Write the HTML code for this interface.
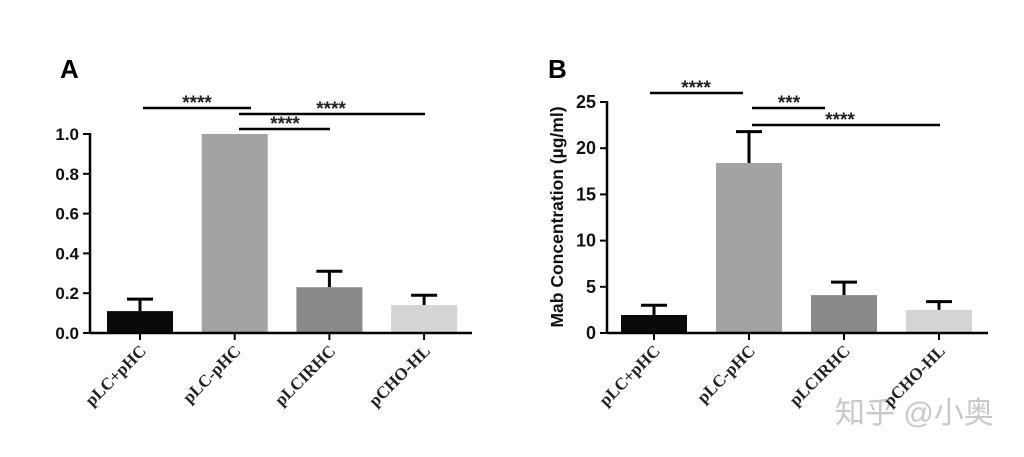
<!DOCTYPE html>
<html><head><meta charset="utf-8"><style>
html,body{margin:0;padding:0;background:#fff;}
svg{display:block;}
</style></head><body>
<svg id="s" width="1024" height="457" xmlns="http://www.w3.org/2000/svg">
<text x="60" y="78" font-family="Liberation Sans, sans-serif" font-weight="bold" font-size="26">A</text>
<text x="548" y="78" font-family="Liberation Sans, sans-serif" font-weight="bold" font-size="26">B</text>
<text x="835" y="423" font-family="Liberation Sans, 'Noto Sans CJK SC', sans-serif" font-size="30" fill="#c8c8c8">知乎 @小奥</text>
</svg>
<script>
const categories=["pLC+pHC","pLC-pHC","pLCIRHC","pCHO-HL"];
const aValues=[0.11,1.0,0.23,0.14];
const aErrors=[0.17,1.0,0.31,0.19];
const aTicks=[0,0.2,0.4,0.6,0.8,1.0];
const bValues=[1.95,18.4,4.1,2.5];
const bErrors=[3.0,21.8,5.5,3.4];
const bTicks=[0,5,10,15,20,25];
const colors=["#0a0a0a","#a3a3a6","#898989","#d4d4d4"];
const NS="http://www.w3.org/2000/svg";
const svg=document.getElementById('s');
function mk(t,a,p){const e=document.createElementNS(NS,t);for(const k in a)e.setAttribute(k,a[k]);(p||svg).appendChild(e);return e;}
function panel(cfg){
  const g=mk('g',{});
  
  
  const y=v=>cfg.y0-(v-cfg.min)/(cfg.max-cfg.min)*(cfg.y0-cfg.y1);
  const x=i=>cfg.x0+cfg.first+i*cfg.step;
  cfg.values.forEach((v,i)=>{
    const cx=x(i);
    if(cfg.errs[i]>v){
      const ln=mk('line',{x1:cx,x2:cx,y1:y(v),y2:y(cfg.errs[i]),stroke:'#000','stroke-width':3},g);
      
      
      const cap=mk('line',{x1:cx-13,x2:cx+13,y1:y(cfg.errs[i]),y2:y(cfg.errs[i]),stroke:'#000','stroke-width':3},g);
      
      
    }
    const r=mk('rect',{x:cx-33,y:y(v),width:66,height:cfg.y0-y(v),fill:colors[i]},g);
    
    
    const tk=mk('line',{x1:cx,x2:cx,y1:cfg.y0,y2:cfg.y0+7,stroke:'#000','stroke-width':2},g);
    
    
    const t=mk('text',{x:cx+7,y:cfg.y0+19,transform:`rotate(-45 ${cx+7} ${cfg.y0+19})`,'text-anchor':'end','font-family':'Liberation Serif, serif','font-weight':'bold','font-size':17,fill:'#222'},g);
    t.textContent=categories[i];
    
    
  });
  const ax=mk('line',{x1:cfg.x0,x2:cfg.x0,y1:cfg.y0+1,y2:y(cfg.max)-1,stroke:'#000','stroke-width':2.5},g);
  
  
  const xx=mk('line',{x1:cfg.x0,x2:cfg.xend,y1:cfg.y0,y2:cfg.y0,stroke:'#000','stroke-width':2.5},g);
  
  
  cfg.ticks.forEach(tv=>{
    const tk=mk('line',{x1:cfg.x0-7,x2:cfg.x0,y1:y(tv),y2:y(tv),stroke:'#000','stroke-width':2},g);
    
    
    const t=mk('text',{x:cfg.x0-11,y:y(tv)+6,'text-anchor':'end','font-family':'Liberation Sans, sans-serif','font-weight':'bold','font-size':cfg.fs,fill:'#111'},g);
    t.textContent=cfg.fmt(tv);
    
    
  });
  cfg.sig.forEach(s=>{
    const l=mk('line',{x1:s[0],x2:s[1],y1:s[2],y2:s[2],stroke:'#000','stroke-width':2.5},g);
    
    
    const t=mk('text',{x:s[3],y:s[2]+1,'text-anchor':'middle','font-family':'Liberation Sans, sans-serif','font-weight':'bold','font-size':19,fill:'#222'},g);
    t.textContent=s[4];
    
    
  });
}
panel({name:'panel-a-chart',x0:90,xend:472,y0:333,y1:134,min:0,max:1,first:50,step:94.7,values:aValues,errs:aErrors,ticks:aTicks,fs:17,fmt:v=>v.toFixed(1),
  sig:[[143,251,108,197,'****'],[239,425,114,331,'****'],[239,330,129,285,'****']]});
panel({name:'panel-b-chart',x0:607,xend:988,y0:333,y1:102,min:0,max:25,first:47,step:95,values:bValues,errs:bErrors,ticks:bTicks,fs:18,fmt:v=>String(v),
  sig:[[650,743,93,696,'****'],[752,825,108,789,'***'],[752,940,125,840,'****']]});
const yt=mk('text',{x:563,y:217,transform:'rotate(-90 563 217)','text-anchor':'middle','font-family':'Liberation Sans, sans-serif','font-weight':'bold','font-size':17.5,fill:'#111'});
yt.textContent='Mab Concentration (µg/ml)';


</script>
</body></html>
